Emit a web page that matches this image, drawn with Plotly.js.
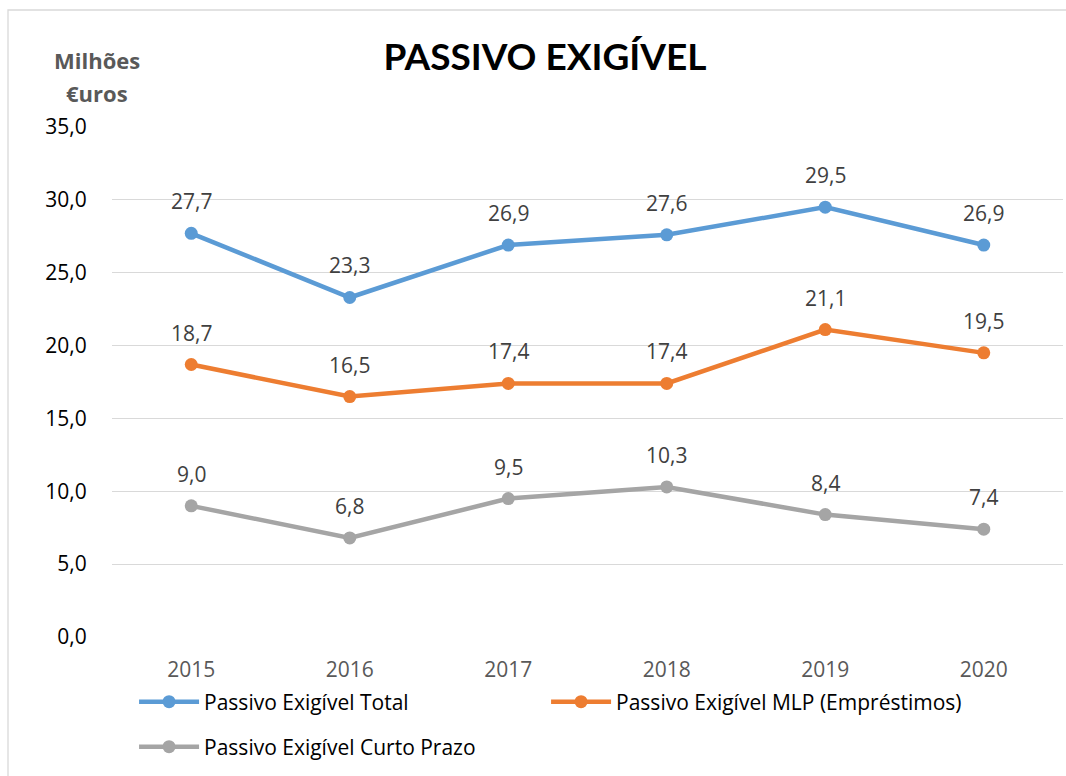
<!DOCTYPE html>
<html>
<head>
<meta charset="utf-8">
<script src="https://cdn.plot.ly/plotly-3.0.1.min.js"></script>
<style>html,body{margin:0;padding:0;background:#fff;}#chart{width:1066px;height:776px;}</style>
</head>
<body>
<div id="chart"></div>
<script>
const years = ['2015', '2016', '2017', '2018', '2019', '2020'];
const totalValues = [27.7, 23.3, 26.9, 27.6, 29.5, 26.9];
const mlpValues = [18.7, 16.5, 17.4, 17.4, 21.1, 19.5];
const curtoValues = [9.0, 6.8, 9.5, 10.3, 8.4, 7.4];
const seriesNames = ['Passivo Exigível Total', 'Passivo Exigível MLP (Empréstimos)', 'Passivo Exigível Curto Prazo'];
const seriesColors = ['#5B9BD5', '#ED7D31', '#A5A5A5'];
const yTickValues = [0, 5, 10, 15, 20, 25, 30, 35];
const yTickLabels = ['0,0', '5,0', '10,0', '15,0', '20,0', '25,0', '30,0', '35,0'];

const FONT = '"Open Sans", Lato, "Liberation Sans", sans-serif';
const TITLE_FONT = 'Lato, "Open Sans", sans-serif';
const allSeries = [totalValues, mlpValues, curtoValues];
const legendIds = ['legend', 'legend2', 'legend3'];

const traces = allSeries.map((vals, i) => ({
  type: 'scatter',
  mode: 'lines+markers',
  x: years,
  y: vals,
  name: seriesNames[i],
  line: {color: seriesColors[i], width: 4.5},
  marker: {color: seriesColors[i], size: 13},
  legend: legendIds[i],
  hoverinfo: 'x+y'
}));

const annotations = [];
allSeries.forEach((vals) => {
  vals.forEach((v, j) => {
    annotations.push({
      x: j, y: v, xref: 'x', yref: 'y',
      text: v.toFixed(1).replace('.', ','),
      showarrow: false, yshift: 32,
      font: {family: FONT, size: 21, color: '#404040'}
    });
  });
});
annotations.push({
  xref: 'paper', yref: 'paper', x: (97 - 112) / 951, y: (637 - 60) / 510,
  xanchor: 'center', yanchor: 'middle',
  text: '<b>Milhões</b>', showarrow: false,
  font: {family: FONT, size: 22, color: '#595959'}
});
annotations.push({
  xref: 'paper', yref: 'paper', x: (97 - 112) / 951, y: (637 - 93) / 510,
  xanchor: 'center', yanchor: 'middle',
  text: '<b>€uros</b>', showarrow: false,
  font: {family: FONT, size: 22, color: '#595959'}
});

const legendBase = {
  orientation: 'h', xanchor: 'left', yanchor: 'middle',
  itemwidth: 60,
  font: {family: FONT, size: 21, color: '#000000'},
  bgcolor: 'rgba(0,0,0,0)'
};
const lx = 0.0232;

const layout = {
  width: 1066, height: 776,
  margin: {l: 112, r: 3, t: 127, b: 139},
  paper_bgcolor: '#ffffff', plot_bgcolor: '#ffffff',
  title: {
    text: '<b>PASSIVO EXIGÍVEL</b>',
    font: {family: TITLE_FONT, size: 37, color: '#000000'},
    xref: 'paper', x: (545 - 112) / 951, xanchor: 'center',
    yref: 'container', y: 1 - 57 / 776, yanchor: 'middle'
  },
  xaxis: {
    type: 'category', range: [-0.5, 5.5],
    showgrid: false, zeroline: false, showline: false,
    ticks: 'outside', ticklen: 14, tickcolor: 'rgba(0,0,0,0)',
    tickfont: {family: FONT, size: 21, color: '#595959'},
    fixedrange: true
  },
  yaxis: {
    range: [0, 35],
    tickvals: yTickValues, ticktext: yTickLabels,
    showgrid: true, gridcolor: '#D9D9D9', gridwidth: 1.3,
    zeroline: false, showline: false,
    ticks: 'outside', ticklen: 20, tickcolor: 'rgba(0,0,0,0)',
    tickfont: {family: FONT, size: 21, color: '#000000'},
    fixedrange: true
  },
  legend: Object.assign({}, legendBase, {x: lx, y: (637 - 702) / 510}),
  legend2: Object.assign({}, legendBase, {x: lx + 412 / 951, y: (637 - 702) / 510}),
  legend3: Object.assign({}, legendBase, {x: lx, y: (637 - 747) / 510}),
  shapes: [{
    type: 'rect', xref: 'paper', yref: 'paper',
    x0: (8 - 112) / 951, x1: (1075 - 112) / 951,
    y0: (637 - 785) / 510, y1: (637 - 10) / 510,
    line: {color: '#D9D9D9', width: 1.3}, fillcolor: 'rgba(0,0,0,0)', layer: 'below'
  }],
  annotations: annotations,
  showlegend: true
};

Plotly.newPlot('chart', traces, layout, {displayModeBar: false, responsive: false});
</script>
</body>
</html>
